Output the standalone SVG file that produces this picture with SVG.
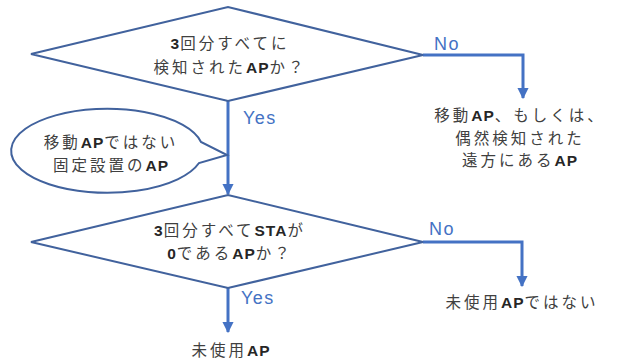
<svg xmlns="http://www.w3.org/2000/svg" width="618" height="362" viewBox="0 0 618 362">
<style>
.shape{fill:#fff;stroke:#41629d;stroke-width:2}
.conn{fill:none;stroke:#4472c4;stroke-width:3}
.t{font-family:"Noto Sans CJK JP","Liberation Sans",sans-serif;font-size:15.5px;fill:#404040;letter-spacing:3px;text-anchor:middle}
.l{font-family:"Liberation Sans",sans-serif;font-weight:bold;fill:#262626;letter-spacing:1px}
.lab{font-family:"Liberation Sans",sans-serif;font-size:18px;fill:#4472c4;letter-spacing:1.5px}
</style>
<defs>
<marker id="ah" viewBox="0 0 10 10" refX="9" refY="5" markerWidth="3.8" markerHeight="3.8" orient="auto" markerUnits="strokeWidth">
<path d="M0,0 L10,5 L0,10 Z" fill="#4472c4"/>
</marker>
</defs>
<rect width="618" height="362" fill="#fff"/>
<g id="connectors">
<path class="conn" d="M423,55 H523 V98" marker-end="url(#ah)"/>
<path class="conn" d="M228,101 V194" marker-end="url(#ah)"/>
<path class="conn" d="M423,242 H522 V286" marker-end="url(#ah)"/>
<path class="conn" d="M228,287 V332" marker-end="url(#ah)"/>
<text class="lab" x="434" y="50">No</text>
<text class="lab" x="243" y="124">Yes</text>
<text class="lab" x="429" y="235">No</text>
<text class="lab" x="241" y="304">Yes</text>
</g>
<g id="decision1">
<polygon class="shape" points="31,54 228,7 423,55 228,101"/>
<text class="t" x="230" y="49"><tspan class="l">3</tspan>回分すべてに</text>
<text class="t" x="230" y="73">検知された<tspan class="l">AP</tspan>か？</text>
</g>
<g id="result1">
<text class="t" x="520" y="121">移動<tspan class="l">AP</tspan>、もしくは、</text>
<text class="t" x="520" y="144">偶然検知された</text>
<text class="t" x="520" y="166">遠方にある<tspan class="l">AP</tspan></text>
</g>
<g id="callout">
<path class="shape" d="M201,142 A96,42 0 1 0 199,163 L227,155 Z"/>
<text class="t" x="111" y="148">移動<tspan class="l">AP</tspan>ではない</text>
<text class="t" x="111" y="171">固定設置の<tspan class="l">AP</tspan></text>
</g>
<g id="decision2">
<polygon class="shape" points="31,242 228,195 423,242 228,288"/>
<text class="t" x="230" y="236"><tspan class="l">3</tspan>回分すべて<tspan class="l">STA</tspan>が</text>
<text class="t" x="230" y="259"><tspan class="l">0</tspan>である<tspan class="l">AP</tspan>か？</text>
</g>
<g id="result2">
<text class="t" x="522" y="308">未使用<tspan class="l">AP</tspan>ではない</text>
</g>
<g id="result3">
<text class="t" x="231" y="356">未使用<tspan class="l">AP</tspan></text>
</g>
</svg>
